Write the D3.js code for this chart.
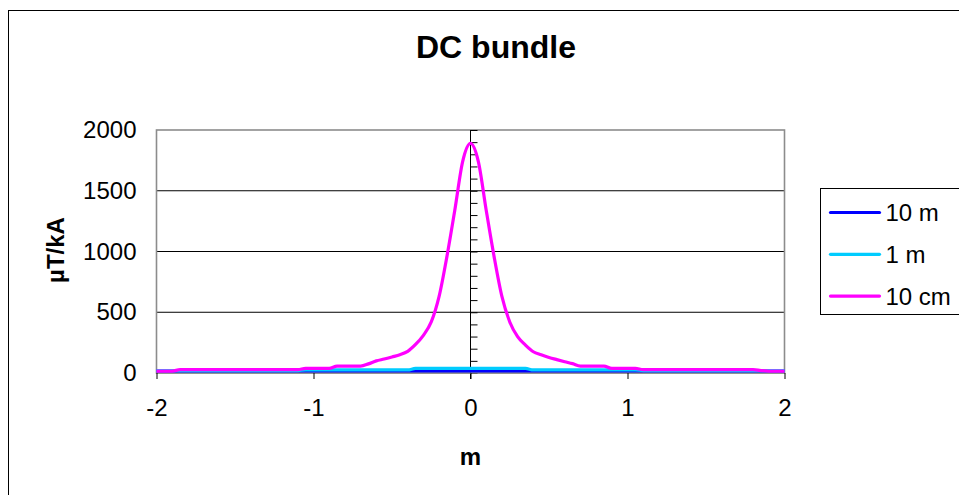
<!DOCTYPE html>
<html>
<head>
    <title>DC bundle</title>
    <script src="https://cdn.jsdelivr.net/npm/d3@7/dist/d3.min.js"></script>
    <style>
        body { margin: 0; background: #fff; }
        text { font-family: "Liberation Sans", Arial, sans-serif; }
    </style>
</head>
<body>
    <svg width="959" height="495" id="mainsvg"></svg>
    <script>
        // distance from the bundle centre, m
        const xs = [-2.00, -1.95, -1.90, -1.85, -1.80, -1.75, -1.70, -1.65, -1.60, -1.55, -1.50, -1.45, -1.40, -1.35, -1.30,
            -1.25, -1.20, -1.15, -1.10, -1.05, -1.00, -0.95, -0.90, -0.85, -0.80, -0.75, -0.70, -0.65, -0.60, -0.55, -0.50,
            -0.45, -0.40, -0.35, -0.30, -0.25, -0.20, -0.15, -0.10, -0.05, 0.00, 0.05, 0.10, 0.15, 0.20, 0.25, 0.30, 0.35,
            0.40, 0.45, 0.50, 0.55, 0.60, 0.65, 0.70, 0.75, 0.80, 0.85, 0.90, 0.95, 1.00, 1.05, 1.10, 1.15, 1.20, 1.25,
            1.30, 1.35, 1.40, 1.45, 1.50, 1.55, 1.60, 1.65, 1.70, 1.75, 1.80, 1.85, 1.90, 1.95, 2.00];

        // uT/kA at 10 m
        const h10m = [17, 17, 17, 17, 17, 17, 17, 17, 17, 17, 17, 17, 17, 17, 17, 17, 17, 17, 17, 17, 17, 17, 17, 17, 17,
            17, 17, 17, 17, 17, 17, 17, 17, 17, 17, 17, 17, 17, 17, 17, 17, 17, 17, 17, 17, 17, 17, 17, 17, 17, 17, 17,
            17, 17, 17, 17, 17, 17, 17, 17, 17, 17, 17, 17, 17, 17, 17, 17, 17, 17, 17, 17, 17, 17, 17, 17, 17, 17, 17, 17, 17];

        // uT/kA at 1 m
        const h1m = [20, 20, 20, 20, 20, 20, 20, 20, 20, 20, 20, 20, 20, 20, 20, 20, 20, 20, 20, 25, 25, 25, 25, 25, 25,
            25, 25, 25, 25, 25, 25, 25, 25, 38, 38, 38, 38, 38, 38, 38, 38, 38, 38, 38, 38, 38, 38, 38, 25, 25, 25, 25,
            25, 25, 25, 25, 25, 25, 25, 25, 25, 25, 20, 20, 20, 20, 20, 20, 20, 20, 20, 20, 20, 20, 20, 20, 20, 20, 20, 20, 20];

        // uT/kA at 10 cm
        const h10cm = [16, 16, 16, 27, 27, 27, 27, 27, 27, 27, 27, 27, 27, 27, 27, 27, 27, 27, 27, 38, 38, 38, 38, 57, 57,
            57, 57, 75, 100, 115, 132, 150, 178, 235, 310, 420, 630, 960, 1340, 1740, 1890, 1740, 1340, 960, 630, 420, 300,
            230, 175, 150, 128, 110, 93, 77, 57, 57, 57, 57, 38, 38, 38, 38, 27, 27, 27, 27, 27, 27, 27, 27, 27, 27, 27,
            27, 27, 27, 27, 20, 16, 16, 16];

        const seriesNames = ['10 m', '1 m', '10 cm'];
        const seriesColors = ['#0000ff', '#00ccff', '#ff00ff'];
        const yTicks = [0, 500, 1000, 1500, 2000];
        const xTicks = [-2, -1, 0, 1, 2];

        const svg = d3.select('svg');

        const series = [h10m, h1m, h10cm].map((vals, i) => ({
            name: seriesNames[i],
            color: seriesColors[i],
            points: xs.map((v, j) => [v, vals[j]])
        }));

        const x = d3.scaleLinear().domain([-2, 2]).range([156.5, 784.5]);
        const y = d3.scaleLinear().domain([0, 2000]).range([373, 130]);

        // outer chart frame
        svg.append('rect')
            .attr('x', 8.5).attr('y', 10.5).attr('width', 1000).attr('height', 1000)
            .attr('fill', 'none').attr('stroke', '#000').attr('stroke-width', 1);

        svg.append('text')
            .attr('x', 496).attr('y', 58)
            .attr('text-anchor', 'middle')
            .attr('font-size', 32).attr('font-weight', 'bold')
            .text('DC bundle');

        // gridlines
        svg.append('g').selectAll('line').data(yTicks.slice(1, -1)).join('line')
            .attr('x1', x(-2)).attr('x2', x(2))
            .attr('y1', d => y(d)).attr('y2', d => y(d))
            .attr('stroke', '#000').attr('stroke-width', 1);

        // plot area border
        svg.append('rect')
            .attr('x', x(-2)).attr('y', y(2000))
            .attr('width', x(2) - x(-2)).attr('height', y(0) - y(2000))
            .attr('fill', 'none').attr('stroke', '#8c8c8c').attr('stroke-width', 1.6);

        // y tick labels on the left edge
        const yLabels = svg.append('g')
            .attr('transform', `translate(${x(-2)},0)`)
            .call(d3.axisLeft(y).tickValues(yTicks).tickSize(0).tickPadding(20).tickFormat(d3.format('d')));
        yLabels.select('.domain').remove();
        yLabels.selectAll('text').attr('font-size', 24).attr('fill', '#000')
            .style('font-family', '"Liberation Sans", Arial, sans-serif');

        // value axis crossing at x = 0, minor ticks every 100
        const yAxis = svg.append('g')
            .attr('transform', `translate(${x(0)},0)`)
            .call(d3.axisRight(y).tickValues(d3.range(0, 2001, 100)).tickSize(7).tickFormat(''));
        yAxis.select('.domain').attr('d', `M0,${y(2000)}V${y(0) + 6}`).attr('stroke', '#000');
        yAxis.selectAll('line').attr('stroke', '#000');

        // x axis
        const xAxis = svg.append('g')
            .attr('transform', `translate(0,${y(0)})`)
            .call(d3.axisBottom(x).tickValues(xTicks).tickSize(6).tickPadding(20).tickFormat(d3.format('d')));
        xAxis.select('.domain').attr('stroke', '#8c8c8c').attr('stroke-width', 1.6).attr('d', `M${x(-2)},0H${x(2)}`);
        xAxis.selectAll('line').attr('stroke', '#000');
        xAxis.selectAll('text').attr('font-size', 24).attr('fill', '#000')
            .style('font-family', '"Liberation Sans", Arial, sans-serif');
        xAxis.selectAll('text').text(d => d < 0 ? '-' + Math.abs(d) : d);

        // series
        const line = d3.line()
            .x(d => x(d[0]))
            .y(d => y(d[1]))
            .curve(d3.curveMonotoneX);

        svg.append('g').selectAll('path').data(series).join('path')
            .attr('d', d => line(d.points))
            .attr('fill', 'none')
            .attr('stroke', d => d.color)
            .attr('stroke-width', 3.2)
            .attr('stroke-linejoin', 'round');

        // axis titles
        svg.append('text')
            .attr('transform', 'translate(64,250) rotate(-90)')
            .attr('text-anchor', 'middle')
            .attr('font-size', 24).attr('font-weight', 'bold')
            .text('µT/kA');

        svg.append('text')
            .attr('x', x(0)).attr('y', 465)
            .attr('text-anchor', 'middle')
            .attr('font-size', 24).attr('font-weight', 'bold')
            .text('m');

        // legend
        const legend = svg.append('g').attr('transform', 'translate(820.5,188.5)');
        legend.append('rect')
            .attr('width', 160).attr('height', 126)
            .attr('fill', '#fff').attr('stroke', '#000').attr('stroke-width', 1);
        const items = legend.selectAll('g').data(series).join('g')
            .attr('transform', (d, i) => `translate(0,${24 + i * 41.8})`);
        items.append('line')
            .attr('x1', 10).attr('x2', 59)
            .attr('stroke', d => d.color).attr('stroke-width', 3.2)
            .attr('stroke-linecap', 'round');
        items.append('text')
            .attr('x', 65).attr('y', 8.5)
            .attr('font-size', 24)
            .text(d => d.name);
    </script>
</body>
</html>
